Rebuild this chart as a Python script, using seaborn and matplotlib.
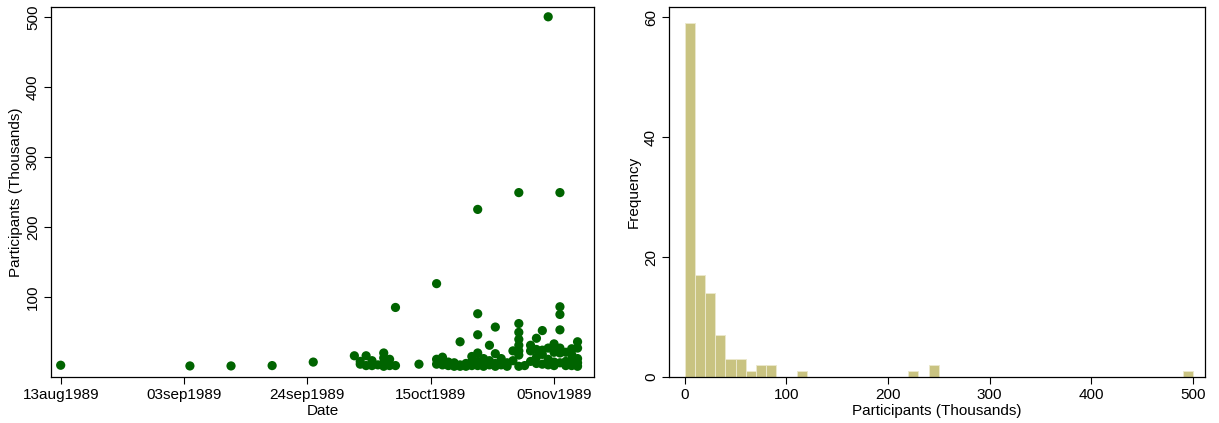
import numpy as np
import pandas as pd
import matplotlib
matplotlib.use("Agg")
import matplotlib.pyplot as plt
import matplotlib.dates as mdates
import seaborn as sns

# ---- data ----
dates = (
    ["1989-08-13", "1989-09-04", "1989-09-11", "1989-09-18", "1989-09-25",
     "1989-10-02", "1989-10-03", "1989-10-03", "1989-10-04", "1989-10-04",
     "1989-10-05", "1989-10-05", "1989-10-05", "1989-10-06",
     "1989-10-07", "1989-10-07", "1989-10-07", "1989-10-07",
     "1989-10-08", "1989-10-08", "1989-10-08", "1989-10-09", "1989-10-09",
     "1989-10-13",
     "1989-10-16", "1989-10-16", "1989-10-16",
     "1989-10-17", "1989-10-17",
     "1989-10-18", "1989-10-18", "1989-10-18",
     "1989-10-19", "1989-10-19",
     "1989-10-20", "1989-10-20", "1989-10-20",
     "1989-10-21", "1989-10-21", "1989-10-21",
     "1989-10-22", "1989-10-22", "1989-10-22"]
    + ["1989-10-23"] * 6
    + ["1989-10-24"] * 2
    + ["1989-10-25"] * 3
    + ["1989-10-26"] * 4
    + ["1989-10-27"] * 2
    + ["1989-10-28"] * 3
    + ["1989-10-29"] * 2
    + ["1989-10-30"] * 8
    + ["1989-10-31"] * 1
    + ["1989-11-01"] * 3
    + ["1989-11-02"] * 4
    + ["1989-11-03"] * 4
    + ["1989-11-04"] * 4
    + ["1989-11-05"] * 4
    + ["1989-11-06"] * 7
    + ["1989-11-07"] * 3
    + ["1989-11-08"] * 5
    + ["1989-11-09"] * 5
)
participants = [
    2.5, 1.5, 1.5, 2, 7,
    16, 8, 4, 16, 2,
    5, 2, 9, 3,
    20, 13, 1, 6,
    11, 4, 2, 85, 2,
    4,
    119, 11, 4,
    14, 3,
    7, 2, 3,
    6, 1,
    36, 3, 1,
    5, 1, 4,
    8, 2, 15,
    225, 76, 46, 20, 8, 2,
    12, 1,
    31, 9, 3,
    57, 19, 5, 1,
    12, 3,
    6, 1, 4,
    23, 9,
    249, 62, 49.5, 39.5, 31, 23, 17, 1,
    2,
    31, 23, 8,
    41, 14, 5, 25,
    52, 18, 4, 24,
    500, 27, 11, 3,
    21, 7, 2, 33,
    249, 86, 75, 53, 27, 20, 6,
    8, 2, 21,
    18, 10, 4, 2, 26,
    36, 27, 12, 6, 1,
]
date_ticks = ["1989-08-13", "1989-09-03", "1989-09-24", "1989-10-15", "1989-11-05"]
date_tick_labels = ["13aug1989", "03sep1989", "24sep1989", "15oct1989", "05nov1989"]
left_yticks = [100, 200, 300, 400, 500]
right_xticks = [0, 100, 200, 300, 400, 500]
right_yticks = [0, 20, 40, 60]

df = pd.DataFrame({"Date": pd.to_datetime(dates), "Participants": participants})

sns.set_theme(style="ticks")
plt.rcParams["font.family"] = ["Liberation Sans", "DejaVu Sans"]
plt.rcParams["axes.linewidth"] = 0.9
plt.rcParams["text.color"] = "black"
plt.rcParams["axes.labelcolor"] = "black"
plt.rcParams["xtick.color"] = "black"
plt.rcParams["ytick.color"] = "black"

fig = plt.figure(figsize=(12.19, 4.23), dpi=100)
W, H = 1219, 423
ax1 = fig.add_axes([51 / W, (H - 377) / H, (594 - 51) / W, (377 - 7) / H])
ax2 = fig.add_axes([669 / W, (H - 377) / H, (1205 - 669) / W, (377 - 7) / H])

# ---- left: scatter ----
sns.scatterplot(data=df, x="Date", y="Participants", ax=ax1,
                color="#006400", s=44, edgecolor="none", linewidth=0)
t0 = pd.Timestamp("1989-08-13")
ax1.set_xlim(mdates.date2num(t0 - pd.Timedelta(days=1.65)),
             mdates.date2num(t0 + pd.Timedelta(days=90.8)))
ax1.set_ylim(-14.3, 514)
ax1.set_xticks(mdates.date2num(pd.to_datetime(date_ticks)))
ax1.set_xticklabels(date_tick_labels)
ax1.set_yticks(left_yticks)
ax1.set_xlabel("Date", fontsize=11, labelpad=1)
ax1.set_ylabel("Participants (Thousands)", fontsize=11, labelpad=2)

# ---- right: histogram ----
sns.histplot(x=participants, bins=np.arange(0, 510, 10), ax=ax2,
             color="#c9c381", alpha=1, edgecolor="#ebe8cc", linewidth=0.7)
ax2.set_xlim(-15.5, 512)
ax2.set_ylim(0, 61.7)
ax2.set_xticks(right_xticks)
ax2.set_yticks(right_yticks)
ax2.set_xlabel("Participants (Thousands)", fontsize=11, labelpad=1)
ax2.set_ylabel("Frequency", fontsize=11, labelpad=2)

for ax in (ax1, ax2):
    for sp in ax.spines.values():
        sp.set_visible(True)
        sp.set_color("black")
    ax.tick_params(axis="both", direction="out", length=5, width=0.8,
                   color="black", labelcolor="black", labelsize=11, pad=3)
    ax.tick_params(axis="y", labelrotation=90)
    for lab in ax.get_yticklabels():
        lab.set_va("center")
    ax.grid(False)

fig.savefig("out.png", dpi=100, facecolor="white")
